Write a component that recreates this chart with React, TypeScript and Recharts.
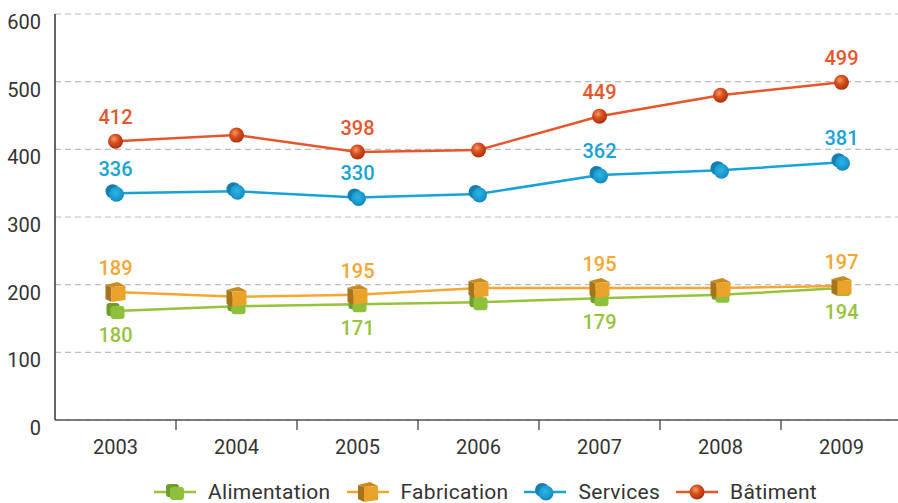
import React from 'react';
import { LineChart, Line, XAxis, YAxis, CartesianGrid, LabelList } from 'recharts';

const years = ['2003', '2004', '2005', '2006', '2007', '2008', '2009'];
const alimentation = [161, 168, 171, 174, 180, 185, 195];
const fabrication = [189, 182, 185, 195, 195, 195, 198];
const services = [335, 338, 329, 334, 362, 369, 381];
const batiment = [412, 421, 396, 399, 449, 480, 499];

const alimentationLabels = ['180', '', '171', '', '179', '', '194'];
const fabricationLabels = ['189', '', '195', '', '195', '', '197'];
const servicesLabels = ['336', '', '330', '', '362', '', '381'];
const batimentLabels = ['412', '', '398', '', '449', '', '499'];

const yTicks = [0, 100, 200, 300, 400, 500, 600];

const data = years.map((y, i) => ({
  year: y,
  alimentation: alimentation[i],
  fabrication: fabrication[i],
  services: services[i],
  batiment: batiment[i],
}));

const FONT = 'Roboto, "DejaVu Sans", sans-serif';
const C_ALI = '#97c23c';
const C_FAB = '#f6a631';
const C_SER = '#19a2d6';
const C_BAT = '#e5572b';

const Sphere = ({ cx, cy }: any) => (
  <g>
    <circle cx={cx} cy={cy} r={7.5} fill="url(#gSphere)" />
  </g>
);

const Cylinder = ({ cx, cy }: any) => (
  <g>
    <circle cx={cx - 3} cy={cy - 2} r={7} fill="#157fae" />
    <path d={`M ${cx - 8} ${cy - 4} L ${cx - 3} ${cy + 6} L ${cx + 2} ${cy - 8} Z`} fill="#157fae" />
    <circle cx={cx + 1} cy={cy + 1} r={7.5} fill="url(#gCyl)" />
  </g>
);

const Cube = ({ cx, cy }: any) => (
  <g>
    <polygon points={`${cx - 10},${cy - 7} ${cx - 4},${cy - 5} ${cx - 4},${cy + 10} ${cx - 10},${cy + 7}`} fill="#a9731b" />
    <polygon points={`${cx - 10},${cy - 7} ${cx + 2},${cy - 10} ${cx + 10},${cy - 6} ${cx - 4},${cy - 5}`} fill="#c8891f" />
    <polygon points={`${cx - 4},${cy - 5} ${cx + 10},${cy - 6} ${cx + 10},${cy + 8} ${cx - 4},${cy + 10}`} fill="#e9a22a" />
  </g>
);

const Block = ({ cx, cy }: any) => (
  <g>
    <rect x={cx - 9} y={cy - 8} width={13} height={13} rx={3} fill="#6f9d2b" />
    <rect x={cx - 5} y={cy - 5} width={14} height={13} rx={3} fill="#8fc03c" />
  </g>
);

const makeDot = (Shape: any) => (props: any) => {
  const { cx, cy, index } = props;
  if (cx == null || cy == null) return <g key={index} />;
  return <Shape key={index} cx={cx} cy={cy} />;
};

const makeLabel = (labels: string[], color: string, below: boolean) => (props: any) => {
  const { x, y, index } = props;
  const t = labels[index];
  if (!t) return null;
  return (
    <text
      key={index}
      x={x}
      y={below ? y + 31 : y - 17}
      textAnchor="middle"
      fill={color}
      fontSize={20}
      fontWeight={500}
      fontFamily={FONT}
    >
      {t}
    </text>
  );
};

const YTick = (props: any) => {
  const { x, y, payload } = props;
  return (
    <text x={x - 14} y={y + 15} textAnchor="end" fill="#333" fontSize={20} fontFamily={FONT}>
      {payload.value}
    </text>
  );
};

const XTick = (props: any) => {
  const { x, y, payload } = props;
  const off = payload.offset || 0;
  return (
    <g>
      {payload.index < 6 ? (
        <line x1={x + off} y1={y} x2={x + off} y2={y + 10} stroke="#444" strokeWidth={1.3} />
      ) : null}
      <text x={x} y={y + 34} textAnchor="middle" fill="#333" fontSize={20} fontFamily={FONT}>
        {payload.value}
      </text>
    </g>
  );
};

const legendItems = [
  { name: 'Alimentation', color: C_ALI, Shape: Block },
  { name: 'Fabrication', color: C_FAB, Shape: Cube },
  { name: 'Services', color: C_SER, Shape: Cylinder },
  { name: 'Bâtiment', color: C_BAT, Shape: Sphere },
];

export default function App() {
  return (
    <div style={{ position: 'absolute', left: 0, top: 0, width: 898, height: 503, overflow: 'hidden', background: '#fff' }}>
      <svg width={0} height={0} style={{ position: 'absolute' }}>
        <defs>
          <radialGradient id="gSphere" cx="40%" cy="35%" r="65%">
            <stop offset="0%" stopColor="#f59a6c" />
            <stop offset="45%" stopColor="#d9501f" />
            <stop offset="100%" stopColor="#a8330f" />
          </radialGradient>
          <radialGradient id="gCyl" cx="45%" cy="40%" r="65%">
            <stop offset="0%" stopColor="#2fb4e6" />
            <stop offset="70%" stopColor="#1896cb" />
            <stop offset="100%" stopColor="#127fb0" />
          </radialGradient>
        </defs>
      </svg>
      <LineChart width={902} height={503} data={data} margin={{ top: 14, right: 0, left: 0, bottom: 43 }}>
        <CartesianGrid vertical={false} stroke="#bdbdbd" strokeDasharray="6 4" strokeWidth={1.2} />
        <XAxis
          dataKey="year"
          scale="band"
          height={40}
          axisLine={{ stroke: '#555', strokeWidth: 1.5 }}
          tickLine={false}
          tickSize={0}
          tickMargin={0}
          tick={<XTick />}
          interval={0}
        />
        <YAxis
          width={55}
          domain={[0, 600]}
          ticks={yTicks}
          tickLine={false}
          tickSize={0}
          tickMargin={0}
          axisLine={{ stroke: '#333', strokeWidth: 1.5 }}
          tick={<YTick />}
          interval={0}
        />
        <Line dataKey="alimentation" stroke={C_ALI} strokeWidth={2.5} isAnimationActive={false} dot={makeDot(Block)} activeDot={false}>
          <LabelList dataKey="alimentation" content={makeLabel(alimentationLabels, C_ALI, true)} />
        </Line>
        <Line dataKey="fabrication" stroke={C_FAB} strokeWidth={2.5} isAnimationActive={false} dot={makeDot(Cube)} activeDot={false}>
          <LabelList dataKey="fabrication" content={makeLabel(fabricationLabels, C_FAB, false)} />
        </Line>
        <Line dataKey="services" stroke={C_SER} strokeWidth={2.5} isAnimationActive={false} dot={makeDot(Cylinder)} activeDot={false}>
          <LabelList dataKey="services" content={makeLabel(servicesLabels, C_SER, false)} />
        </Line>
        <Line dataKey="batiment" stroke={C_BAT} strokeWidth={2.5} isAnimationActive={false} dot={makeDot(Sphere)} activeDot={false}>
          <LabelList dataKey="batiment" content={makeLabel(batimentLabels, C_BAT, false)} />
        </Line>
      </LineChart>
      <div
        style={{
          position: 'absolute',
          left: 154,
          top: 482,
          height: 20,
          display: 'flex',
          alignItems: 'center',
          fontFamily: FONT,
          fontSize: 21,
          letterSpacing: 0.3,
          color: '#333',
          whiteSpace: 'nowrap',
        }}
      >
        {legendItems.map((it) => (
          <div key={it.name} style={{ display: 'flex', alignItems: 'center', marginRight: 16, height: 20 }}>
            <svg width={42} height={20}>
              <line x1={0} y1={10} x2={42} y2={10} stroke={it.color} strokeWidth={2.5} />
              <it.Shape cx={21} cy={10} />
            </svg>
            <span style={{ marginLeft: 12, lineHeight: '20px' }}>{it.name}</span>
          </div>
        ))}
      </div>
    </div>
  );
}
